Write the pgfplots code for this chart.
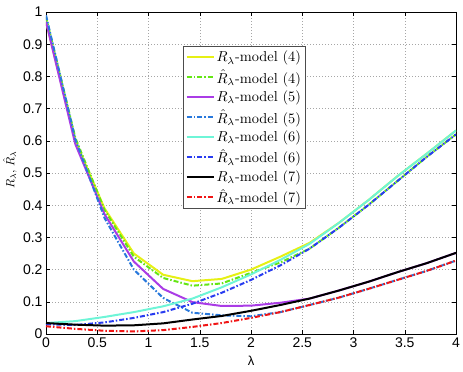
\documentclass[border=0pt]{standalone}
\usepackage{fontspec}
\usepackage{graphicx}
\usepackage{pgfplots}
\usepackage{pgfplotstable}
\pgfplotsset{compat=1.18}
\newfontfamily\tickfont{Liberation Sans}

\definecolor{cYel}{RGB}{230,240,20}
\definecolor{cGrn}{RGB}{100,230,20}
\definecolor{cPur}{RGB}{170,60,230}
\definecolor{cLbl}{RGB}{40,120,220}
\definecolor{cCyn}{RGB}{110,245,215}
\definecolor{cBlu}{RGB}{40,60,240}
\definecolor{cRed}{RGB}{240,20,20}

\newcommand{\lgd}[1]{\scalebox{1.44}{#1}}

% columns: lambda, R4, Rh4, R5, Rh5, R6, Rh6, R7, Rh7
\pgfplotstableread{
lam    r4    rh4   r5    rh5   r6    rh6   r7    rh7
0      0.970 0.985 0.970 0.990 0.034 0.030 0.034 0.024
0.2857 0.600 0.610 0.590 0.605 0.040 0.028 0.029 0.016
0.5714 0.390 0.385 0.372 0.360 0.053 0.036 0.026 0.010
0.8571 0.250 0.240 0.225 0.200 0.068 0.050 0.027 0.008
1.1429 0.184 0.174 0.140 0.112 0.086 0.068 0.033 0.012
1.4286 0.164 0.150 0.099 0.066 0.110 0.094 0.045 0.022
1.7143 0.171 0.157 0.087 0.058 0.145 0.128 0.056 0.034
2      0.200 0.190 0.088 0.055 0.185 0.168 0.072 0.050
2.2857 0.240 0.222 0.097 0.068 0.230 0.213 0.090 0.068
2.5714 0.283 0.265 0.110 0.090 0.280 0.265 0.110 0.090
2.8571 0.345 0.330 0.135 0.113 0.345 0.330 0.135 0.113
3.1429 0.415 0.400 0.162 0.140 0.415 0.400 0.162 0.140
3.4286 0.490 0.475 0.192 0.168 0.490 0.475 0.192 0.168
3.7143 0.560 0.550 0.220 0.196 0.560 0.550 0.220 0.196
4      0.632 0.620 0.252 0.228 0.632 0.620 0.252 0.228
}\datatab

\begin{document}
\begin{tikzpicture}
\begin{axis}[
  scale only axis,
  width=410pt, height=322pt,
  xmin=0, xmax=4, ymin=0, ymax=1,
  xtick={0,0.5,1,1.5,2,2.5,3,3.5,4},
  ytick={0,0.1,0.2,0.3,0.4,0.5,0.6,0.7,0.8,0.9,1},
  /pgf/number format/assume math mode=true,
  ticklabel style={font=\tickfont\fontsize{14}{16}\selectfont},
  major tick length=4pt,
  tick style={black, line width=0.5pt},
  axis line style={line width=0.8pt},
  grid=major,
  major grid style={gray!70, line width=0.5pt, dash pattern=on 0.8pt off 2.2pt},
  xlabel={\tickfont\fontsize{13}{15}\selectfont λ},
  xlabel style={at={(axis description cs:0.5,0)}, yshift=-27pt, anchor=center},
  ylabel={\scalebox{1.2}{$R_\lambda$, $\hat{R}_\lambda$}},
  ylabel style={at={(axis description cs:-0.088,0.51)}, anchor=center},
  legend style={at={(axis description cs:0.333,0.894)}, anchor=north west,
    draw=black!70, line width=0.8pt, fill=white,
    row sep=3pt, inner sep=3pt, nodes={inner sep=1.6pt}},
  legend cell align=left,
  legend image code/.code={\draw[#1] (0pt,0pt) -- (27pt,0pt);},
  every axis plot/.append style={line width=2pt},
]
\addplot[cYel] table[x=lam,y=r4]{\datatab};
\addplot[cGrn, dash pattern=on 5pt off 2pt on 1.5pt off 2pt] table[x=lam,y=rh4]{\datatab};
\addplot[cPur] table[x=lam,y=r5]{\datatab};
\addplot[cLbl, dash pattern=on 5pt off 2pt on 1.5pt off 2pt] table[x=lam,y=rh5]{\datatab};
\addplot[cCyn] table[x=lam,y=r6]{\datatab};
\addplot[cBlu, dash pattern=on 5pt off 2pt on 1.5pt off 2pt] table[x=lam,y=rh6]{\datatab};
\addplot[black] table[x=lam,y=r7]{\datatab};
\addplot[cRed, dash pattern=on 5pt off 2pt on 1.5pt off 2pt] table[x=lam,y=rh7]{\datatab};
\legend{\lgd{$R_\lambda$-model (4)}, \lgd{$\hat{R}_\lambda$-model (4)},
        \lgd{$R_\lambda$-model (5)}, \lgd{$\hat{R}_\lambda$-model (5)},
        \lgd{$R_\lambda$-model (6)}, \lgd{$\hat{R}_\lambda$-model (6)},
        \lgd{$R_\lambda$-model (7)}, \lgd{$\hat{R}_\lambda$-model (7)}}
\end{axis}
\pgfresetboundingbox
\path[use as bounding box] ([shift={(-46pt,-38pt)}]current axis.south west) rectangle ([shift={(7pt,12pt)}]current axis.north east);
\end{tikzpicture}
\end{document}
